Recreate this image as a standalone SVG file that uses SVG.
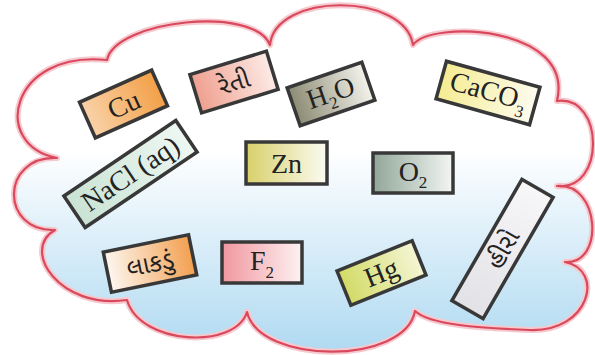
<svg xmlns="http://www.w3.org/2000/svg" width="595" height="355" viewBox="0 0 595 355">
<defs>
<linearGradient id="sky" x1="0" y1="0" x2="0" y2="1" gradientUnits="userSpaceOnUse" gradientTransform="scale(1,355)">
<stop offset="0" stop-color="#ffffff"/>
<stop offset="0.42" stop-color="#ffffff"/>
<stop offset="1" stop-color="#aed9f1"/>
</linearGradient>
<linearGradient id="gCu"><stop offset="0" stop-color="#f9d2a8"/><stop offset="1" stop-color="#f3a048"/></linearGradient>
<linearGradient id="gReti"><stop offset="0" stop-color="#ef9f8f"/><stop offset="1" stop-color="#fcebe6"/></linearGradient>
<linearGradient id="gH2O"><stop offset="0" stop-color="#8c8b74"/><stop offset="1" stop-color="#f4f3ec"/></linearGradient>
<linearGradient id="gCa"><stop offset="0" stop-color="#f5ec92"/><stop offset="1" stop-color="#fdfbee"/></linearGradient>
<linearGradient id="gNa"><stop offset="0" stop-color="#c9e3d4"/><stop offset="1" stop-color="#eef7f2"/></linearGradient>
<linearGradient id="gZn"><stop offset="0" stop-color="#d8d06a"/><stop offset="1" stop-color="#fbfbf2"/></linearGradient>
<linearGradient id="gO2"><stop offset="0" stop-color="#91a698"/><stop offset="1" stop-color="#f3f6f3"/></linearGradient>
<linearGradient id="gF2"><stop offset="0" stop-color="#f0969f"/><stop offset="1" stop-color="#fdf2f2"/></linearGradient>
<linearGradient id="gWood"><stop offset="0" stop-color="#fdf7f0"/><stop offset="1" stop-color="#f3a050"/></linearGradient>
<linearGradient id="gHg"><stop offset="0" stop-color="#d2da66"/><stop offset="1" stop-color="#f4f6d4"/></linearGradient>
<linearGradient id="gHiro"><stop offset="0" stop-color="#e2e2e6"/><stop offset="1" stop-color="#f7f7f9"/></linearGradient>
</defs>
<style>
.box{stroke:#383838;stroke-width:3.5;}
.t{font-family:"Liberation Serif","Times New Roman",serif;font-size:28px;fill:#222;text-anchor:middle;}
.g{font-family:"Noto Sans Gujarati","Noto Serif Gujarati","Lohit Gujarati","Noto Sans",sans-serif;font-size:25px;fill:#222;text-anchor:middle;}
.sub{font-size:17px;}
</style>
<g id="cloud">
<path d="M107,60 C115,20 255,5 270,45 C275,-8 405,-8 413,45 C430,20 575,25 557,101 C605,95 605,192 557,186 C600,182 605,265 565,262 C605,270 590,332 530,330 C480,328 430,325 415,311 C405,365 260,365 247,312 C235,350 140,345 127,300 C60,310 20,250 55,230 C0,232 0,156 57,158 C-10,145 10,50 107,60 Z" fill="url(#sky)" stroke="#f6c9cf" stroke-width="6" stroke-linejoin="round"/>
<path d="M107,60 C115,20 255,5 270,45 C275,-8 405,-8 413,45 C430,20 575,25 557,101 C605,95 605,192 557,186 C600,182 605,265 565,262 C605,270 590,332 530,330 C480,328 430,325 415,311 C405,365 260,365 247,312 C235,350 140,345 127,300 C60,310 20,250 55,230 C0,232 0,156 57,158 C-10,145 10,50 107,60 Z" fill="none" stroke="#d9485c" stroke-width="2.2" stroke-linejoin="round"/>
</g>
<g id="cu" transform="translate(123.5,104) rotate(-24)">
<rect class="box" x="-39.5" y="-19.5" width="79" height="39" fill="url(#gCu)"/>
<text class="t" x="0" y="10">Cu</text>
</g>
<g id="reti" transform="translate(234,82) rotate(-17)">
<rect class="box" x="-40" y="-20" width="80" height="40" fill="url(#gReti)"/>
<text class="g" x="0" y="9">રેતી</text>
</g>
<g id="h2o" transform="translate(331,94) rotate(-19)">
<rect class="box" x="-39.5" y="-20" width="79" height="40" fill="url(#gH2O)"/>
<text class="t" x="0" y="8">H<tspan class="sub" dy="7">2</tspan><tspan dy="-7">O</tspan></text>
</g>
<g id="caco3" transform="translate(488,93) rotate(15.5)">
<rect class="box" x="-48.5" y="-19.5" width="97" height="39" fill="url(#gCa)"/>
<text class="t" x="0" y="7">CaCO<tspan class="sub" dy="8">3</tspan></text>
</g>
<g id="nacl" transform="translate(130.5,174) rotate(-34)">
<rect class="box" x="-67.5" y="-19" width="135" height="38" fill="url(#gNa)"/>
<text class="t" x="0" y="9">NaCl (aq)</text>
</g>
<g id="zn">
<rect class="box" x="246" y="142" width="81" height="42" fill="url(#gZn)"/>
<text class="t" x="286.5" y="173">Zn</text>
</g>
<g id="o2">
<rect class="box" x="373" y="153" width="80" height="40" fill="url(#gO2)"/>
<text class="t" x="413" y="181">O<tspan class="sub" dy="7">2</tspan></text>
</g>
<g id="f2">
<rect class="box" x="222" y="242" width="80" height="41" fill="url(#gF2)"/>
<text class="t" x="262" y="270">F<tspan class="sub" dy="8">2</tspan></text>
</g>
<g id="lakdu" transform="translate(150,263.5) rotate(-11.5)">
<rect class="box" x="-43.5" y="-20.5" width="87" height="41" fill="url(#gWood)"/>
<text class="g" x="0" y="9">લાકડું</text>
</g>
<g id="hg" transform="translate(381.5,273) rotate(-22)">
<rect class="box" x="-40.5" y="-18.5" width="81" height="37" fill="url(#gHg)"/>
<text class="t" x="0" y="9">Hg</text>
</g>
<g id="hiro" transform="translate(502.5,249) rotate(-60)">
<rect class="box" x="-70" y="-18" width="140" height="36" fill="url(#gHiro)"/>
<text class="g" x="0" y="9">હીરો</text>
</g>
</svg>
